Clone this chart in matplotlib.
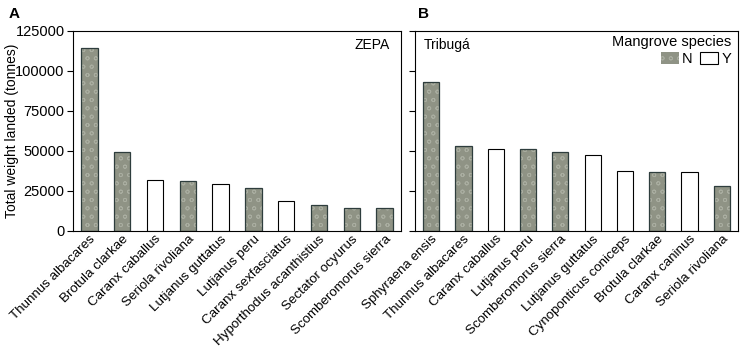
import numpy as np
import matplotlib.pyplot as plt
from matplotlib.patches import Patch

plt.rcParams['font.family'] = ['Liberation Sans', 'DejaVu Sans']
plt.rcParams['font.size'] = 10
plt.rcParams['hatch.linewidth'] = 0.6

# panel A - ZEPA
zepa_species = ['Thunnus albacares', 'Brotula clarkae', 'Caranx caballus', 'Seriola rivoliana',
                'Lutjanus guttatus', 'Lutjanus peru', 'Caranx sexfasciatus',
                'Hyporthodus acanthistius', 'Sectator ocyurus', 'Scomberomorus sierra']
zepa_weight = [114500, 49500, 32000, 31000, 29400, 27000, 18500, 16200, 14600, 14500]
zepa_mangrove = ['N', 'N', 'Y', 'N', 'Y', 'N', 'Y', 'N', 'N', 'N']

# panel B - Tribuga
trib_species = ['Sphyraena ensis', 'Thunnus albacares', 'Caranx caballus', 'Lutjanus peru',
                'Scomberomorus sierra', 'Lutjanus guttatus', 'Cynoponticus coniceps',
                'Brotula clarkae', 'Caranx caninus', 'Seriola rivoliana']
trib_weight = [93100, 53100, 51500, 51000, 49400, 47300, 37300, 36900, 36900, 27900]
trib_mangrove = ['N', 'N', 'Y', 'N', 'N', 'Y', 'Y', 'N', 'Y', 'N']

yticks = [0, 25000, 50000, 75000, 100000, 125000]

FillN = '#8f9385'
HatchN = '#a9ada0'
EdgeN = '#2e3d3d'


def DrawPanel(ax, Species, Weight, Mangrove, ShowY):
    X = np.arange(len(Species))
    for i, m in enumerate(Mangrove):
        if m == 'N':
            # mottled fill, then outline on top
            ax.bar(X[i], Weight[i], width=0.5, color=FillN, edgecolor=HatchN,
                   hatch='oo', linewidth=0)
            ax.bar(X[i], Weight[i], width=0.5, fill=False, edgecolor=EdgeN, linewidth=0.9)
        else:
            ax.bar(X[i], Weight[i], width=0.5, color='white', edgecolor='black', linewidth=0.8)
    ax.set_xlim(-0.5, len(Species) - 0.5)
    ax.set_ylim(0, 125000)
    ax.set_yticks(yticks)
    if ShowY:
        ax.set_yticklabels([str(v) for v in yticks], fontsize=10.5)
    else:
        ax.set_yticklabels([])
    ax.set_xticks(X)
    ax.set_xticklabels(Species, rotation=45, ha='right', va='top',
                       rotation_mode='anchor', fontsize=9.6)
    ax.tick_params(axis='x', length=0, pad=1.5)
    ax.tick_params(axis='y', length=4, width=0.8, pad=2)
    for s in ax.spines.values():
        s.set_linewidth(0.8)


fig = plt.figure(figsize=(7.43, 3.49), dpi=100)
axA = fig.add_axes([73/743, 118/349, 328/743, 200/349])
axB = fig.add_axes([415/743, 118/349, 323/743, 200/349])

DrawPanel(axA, zepa_species, zepa_weight, zepa_mangrove, True)
DrawPanel(axB, trib_species, trib_weight, trib_mangrove, False)

axA.set_ylabel('Total weight landed (tonnes)', fontsize=10)
axA.yaxis.set_label_coords(-54/328, 0.5)
axA.text(0.965, 0.93, 'ZEPA', transform=axA.transAxes, ha='right', va='center', fontsize=10)
axB.text(0.028, 0.93, 'Tribugá', transform=axB.transAxes, ha='left', va='center', fontsize=10)

fig.text(9/743, 1 - 14/349, 'A', fontsize=11, fontweight='bold', ha='left', va='center')
fig.text(418/743, 1 - 14/349, 'B', fontsize=11, fontweight='bold', ha='left', va='center')

Handles = [Patch(facecolor=FillN, edgecolor=HatchN, hatch='oo', linewidth=0, label='N'),
           Patch(facecolor='white', edgecolor='black', linewidth=0.8, label='Y')]
Leg = axB.legend(handles=Handles, title='Mangrove species', ncol=2, frameon=False,
                 loc='upper right', bbox_to_anchor=(1.01, 1.03), fontsize=10.5, title_fontsize=10.5,
                 handlelength=1.2, handleheight=0.8, handletextpad=0.25, columnspacing=0.5,
                 borderpad=0.2, labelspacing=0.2)
Leg._legend_box.align = 'right'

plt.savefig('out.png', dpi=100)
plt.close()
